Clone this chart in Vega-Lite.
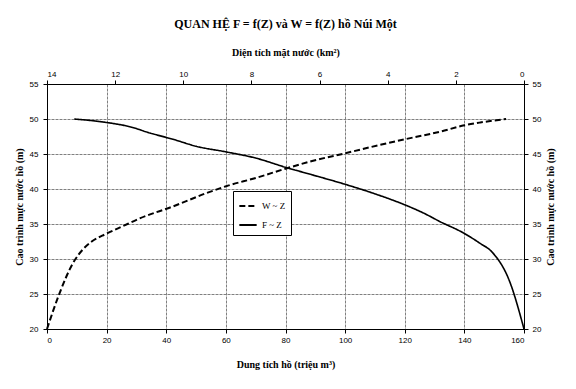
{
  "$schema": "https://vega.github.io/schema/vega-lite/v6.json",
  "width": 477,
  "height": 245,
  "autosize": {"type": "none"},
  "padding": {"left": 47, "top": 84, "right": 52, "bottom": 60},
  "background": "white",
  "title": {
    "text": "QUAN HỆ F =  f(Z) và W =  f(Z) hồ Núi Một",
    "font": "Liberation Serif",
    "fontSize": 12,
    "fontWeight": "bold",
    "color": "black",
    "offset": 16
  },
  "config": {
    "view": {"stroke": "black", "strokeWidth": 1},
    "axis": {
      "labelFont": "Liberation Sans",
      "labelFontSize": 8,
      "labelColor": "black",
      "titleFont": "Liberation Serif",
      "titleFontSize": 10,
      "titleFontWeight": "bold",
      "titleColor": "black",
      "domainColor": "black",
      "tickColor": "black",
      "tickSize": 4,
      "gridColor": "#808080",
      "gridDash": [3, 1],
      "gridWidth": 1
    },
    "legend": {
      "labelFont": "Liberation Serif",
      "labelFontSize": 9,
      "labelColor": "black"
    }
  },
  "data": {
    "values": [
      {"s": "W ~ Z", "v": 0, "z": 20},
      {"s": "W ~ Z", "v": 4.2, "z": 25.1},
      {"s": "W ~ Z", "v": 8.7, "z": 29.4},
      {"s": "W ~ Z", "v": 12.1, "z": 31.4},
      {"s": "W ~ Z", "v": 15, "z": 32.5},
      {"s": "W ~ Z", "v": 19.9, "z": 33.6},
      {"s": "W ~ Z", "v": 25.5, "z": 34.7},
      {"s": "W ~ Z", "v": 31.1, "z": 35.8},
      {"s": "W ~ Z", "v": 42.2, "z": 37.5},
      {"s": "W ~ Z", "v": 53.4, "z": 39.4},
      {"s": "W ~ Z", "v": 60.1, "z": 40.4},
      {"s": "W ~ Z", "v": 70.2, "z": 41.6},
      {"s": "W ~ Z", "v": 80, "z": 42.9},
      {"s": "W ~ Z", "v": 88, "z": 43.9},
      {"s": "W ~ Z", "v": 100, "z": 45.1},
      {"s": "W ~ Z", "v": 111.7, "z": 46.3},
      {"s": "W ~ Z", "v": 120, "z": 47.1},
      {"s": "W ~ Z", "v": 132, "z": 48.2},
      {"s": "W ~ Z", "v": 140, "z": 49.1},
      {"s": "W ~ Z", "v": 145.3, "z": 49.5},
      {"s": "W ~ Z", "v": 154, "z": 50},
      {"s": "F ~ Z", "a": 0, "z": 20},
      {"s": "F ~ Z", "a": 0.43, "z": 26.9},
      {"s": "F ~ Z", "a": 0.92, "z": 30.9},
      {"s": "F ~ Z", "a": 1.31, "z": 32.3},
      {"s": "F ~ Z", "a": 1.77, "z": 33.7},
      {"s": "F ~ Z", "a": 2.49, "z": 35.4},
      {"s": "F ~ Z", "a": 2.88, "z": 36.4},
      {"s": "F ~ Z", "a": 3.53, "z": 37.8},
      {"s": "F ~ Z", "a": 4.25, "z": 39.1},
      {"s": "F ~ Z", "a": 5.27, "z": 40.7},
      {"s": "F ~ Z", "a": 6.2, "z": 42.0},
      {"s": "F ~ Z", "a": 7.0, "z": 43.1},
      {"s": "F ~ Z", "a": 7.86, "z": 44.4},
      {"s": "F ~ Z", "a": 8.74, "z": 45.3},
      {"s": "F ~ Z", "a": 9.62, "z": 46.1},
      {"s": "F ~ Z", "a": 10.3, "z": 47.1},
      {"s": "F ~ Z", "a": 10.98, "z": 48.0},
      {"s": "F ~ Z", "a": 11.57, "z": 48.9},
      {"s": "F ~ Z", "a": 12.25, "z": 49.5},
      {"s": "F ~ Z", "a": 13.2, "z": 50}
    ]
  },
  "layer": [
    {
      "transform": [{"filter": "datum.s === 'W ~ Z'"}],
      "mark": {"type": "line", "color": "black", "strokeWidth": 2, "interpolate": "monotone"},
      "encoding": {
        "x": {
          "field": "v", "type": "quantitative",
          "scale": {"domain": [0, 160], "nice": false, "zero": false},
          "axis": {
            "orient": "bottom",
            "values": [0, 20, 40, 60, 80, 100, 120, 140, 160],
            "grid": true,
            "labelPadding": 3,
            "title": "Dung tích hồ  (triệu m³)",
            "titlePadding": 15
          }
        },
        "y": {
          "field": "z", "type": "quantitative",
          "scale": {"domain": [20, 55], "nice": false, "zero": false},
          "axis": {
            "orient": "left",
            "values": [20, 25, 30, 35, 40, 45, 50, 55],
            "grid": true,
            "labelPadding": 5,
            "title": "Cao trình mực nước hồ (m)",
            "titlePadding": 5
          }
        },
        "order": {"field": "z"},
        "strokeDash": {
          "field": "s", "type": "nominal",
          "scale": {"domain": ["W ~ Z", "F ~ Z"], "range": [[6, 3], [1, 0]]},
          "legend": {
            "title": null,
            "orient": "none",
            "legendX": 186,
            "legendY": 107,
            "symbolType": "stroke",
            "symbolSize": 300,
            "symbolStrokeWidth": 1.8,
            "symbolStrokeColor": "black",
            "strokeColor": "black",
            "fillColor": "white",
            "padding": 5,
            "rowPadding": 4
          }
        }
      }
    },
    {
      "transform": [{"filter": "datum.s === 'F ~ Z'"}],
      "mark": {"type": "line", "color": "black", "strokeWidth": 1.6, "interpolate": "monotone"},
      "encoding": {
        "x": {
          "field": "a", "type": "quantitative",
          "scale": {"domain": [0, 14], "reverse": true, "nice": false, "zero": false},
          "axis": {
            "orient": "top",
            "values": [0, 2, 4, 6, 8, 10, 12, 14],
            "grid": false,
            "labelPadding": 2,
            "title": "Diện tích mặt nước (km²)",
            "titlePadding": 13
          }
        },
        "y": {
          "field": "z", "type": "quantitative",
          "scale": {"domain": [20, 55], "nice": false, "zero": false},
          "axis": {
            "orient": "right",
            "values": [20, 25, 30, 35, 40, 45, 50, 55],
            "grid": false,
            "labelPadding": 4,
            "title": "Cao trình mực nước hồ (m)",
            "titleAngle": 270,
            "titlePadding": 15
          }
        },
        "order": {"field": "z"},
        "strokeDash": {
          "field": "s", "type": "nominal",
          "scale": {"domain": ["W ~ Z", "F ~ Z"], "range": [[6, 3], [1, 0]]}
        }
      }
    }
  ],
  "resolve": {"scale": {"x": "independent", "y": "independent"}}
}
